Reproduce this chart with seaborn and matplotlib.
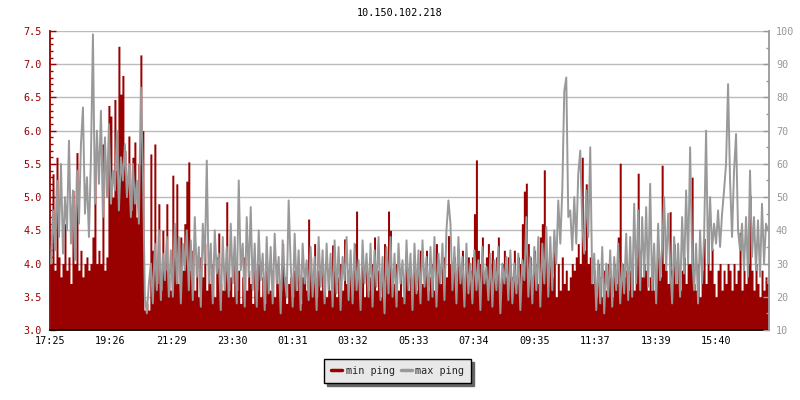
import matplotlib
matplotlib.use("Agg")
import matplotlib.pyplot as plt
from matplotlib.lines import Line2D
from matplotlib.ticker import MultipleLocator, FormatStrFormatter
import numpy as np
import pandas as pd
import seaborn as sns

title = "10.150.102.218"
step_min = 4  # one sample every 4 minutes, starting at 17:25

tick_minutes = [0, 121, 244, 365, 486, 607, 728, 849, 970, 1092, 1214, 1335]
tick_labels = ["17:25", "19:26", "21:29", "23:30", "01:31", "03:32",
               "05:33", "07:34", "09:35", "11:37", "13:39", "15:40"]

# min ping, read against the left axis
min_ping = [
    4.00, 5.35, 3.90, 5.60, 4.10, 3.80, 4.00, 4.60, 3.90, 4.10,
    3.70, 5.10, 4.00, 5.67, 3.90, 4.20, 3.80, 4.00, 4.10, 3.90,
    4.00, 4.40, 5.65, 4.00, 4.20, 4.00, 5.80, 3.90, 4.10, 6.38,
    6.22, 5.00, 6.47, 5.40, 7.27, 6.55, 6.83, 5.70, 5.30, 5.92,
    4.80, 5.60, 5.83, 4.70, 5.50, 7.14, 6.00, 3.30, 3.40, 3.30,
    5.65, 4.20, 5.80, 3.70, 4.90, 3.60, 4.50, 3.90, 4.90, 3.80,
    3.60, 5.33, 4.10, 5.20, 3.70, 4.40, 3.90, 4.60, 5.24, 5.53,
    3.90, 4.20, 3.60, 4.00, 3.50, 4.10, 3.80, 4.30, 3.60, 3.90,
    3.70, 4.00, 3.50, 4.10, 4.46, 3.70, 3.60, 3.90, 4.93, 3.60,
    3.80, 3.50, 4.00, 3.60, 3.90, 3.40, 3.80, 4.10, 3.60, 3.90,
    3.70, 3.40, 3.90, 3.60, 4.00, 3.50, 3.80, 3.40, 3.90, 3.60,
    3.60, 3.90, 3.50, 4.00, 3.70, 3.60, 4.30, 3.80, 3.40, 3.70,
    3.80, 3.50, 3.90, 3.60, 4.00, 3.40, 3.80, 3.90, 3.60, 4.67,
    4.10, 3.70, 4.30, 3.50, 3.90, 3.60, 4.00, 3.80, 3.50, 3.90,
    3.60, 4.28, 3.90, 3.50, 3.80, 4.00, 3.60, 4.37, 3.70, 3.90,
    3.90, 3.60, 4.30, 4.79, 3.80, 3.70, 4.00, 3.50, 3.90, 3.60,
    3.80, 4.00, 4.40, 3.60, 3.90, 3.50, 3.80, 4.30, 3.90, 4.79,
    4.50, 3.80, 3.70, 4.00, 3.60, 3.90, 3.50, 3.80, 4.00, 3.60,
    3.90, 3.70, 4.10, 3.60, 4.00, 4.20, 3.70, 3.90, 4.20, 3.60,
    3.80, 4.00, 3.60, 4.30, 3.90, 3.70, 4.00, 4.10, 3.80, 4.42,
    4.00, 3.80, 4.10, 3.70, 4.00, 3.90, 4.20, 3.70, 4.00, 4.10,
    3.90, 4.10, 4.75, 5.56, 4.20, 4.00, 4.40, 3.80, 4.10, 4.30,
    4.00, 4.20, 3.80, 4.10, 4.40, 3.70, 4.00, 4.20, 3.80, 4.10,
    4.00, 3.80, 4.20, 3.70, 4.10, 4.00, 4.60, 5.09, 5.21, 4.30,
    4.10, 3.80, 4.20, 4.00, 3.70, 4.40, 4.60, 5.41, 4.20, 4.00,
    4.10, 3.80, 4.20, 3.50, 4.00, 3.60, 4.10, 3.70, 3.90, 3.60,
    3.80, 4.00, 3.90, 4.10, 4.30, 4.00, 5.60, 4.20, 5.20, 4.00,
    4.10, 3.70, 3.90, 3.50, 4.00, 3.80, 3.50, 3.90, 3.60, 4.00,
    3.80, 3.50, 4.00, 3.70, 4.40, 5.51, 4.00, 3.80, 3.90, 3.60,
    3.90, 4.00, 3.60, 4.10, 5.36, 4.20, 3.80, 4.00, 3.90, 3.60,
    3.80, 4.00, 3.60, 3.90, 4.10, 3.80, 5.48, 4.00, 3.90, 3.70,
    4.78, 3.90, 4.30, 3.70, 4.00, 3.60, 3.90, 4.10, 3.70, 4.00,
    4.00, 5.30, 3.70, 3.60, 4.00, 3.50, 3.90, 4.38, 3.70, 4.65,
    3.90, 4.23, 3.70, 3.50, 3.90, 4.00, 3.60, 3.90, 3.70, 4.00,
    3.90, 3.60, 4.00, 3.70, 3.90, 4.47, 3.60, 3.90, 3.70, 4.00,
    5.03, 3.90, 3.60, 4.00, 3.70, 3.50, 3.90, 3.60, 3.80, 3.70,
]

# max ping, read against the right axis
max_ping = [
    30, 46, 34, 55, 38, 60, 33, 50, 40, 67,
    36, 52, 31, 58, 42, 66, 77, 45, 56, 38,
    62, 99, 48, 70, 54, 76, 44, 68, 50, 72,
    48, 58, 52, 70, 46, 62, 55, 66, 50, 60,
    44, 60, 48, 55, 42, 83, 58, 20, 15, 24,
    30, 18, 36, 22, 40, 19, 33, 25, 38, 20,
    34, 20, 42, 24, 38, 18, 36, 28, 40, 22,
    37, 19, 44, 26, 35, 17, 42, 30, 61, 24,
    36, 18, 40, 27, 33, 16, 38, 22, 35, 20,
    42, 24, 38, 18, 55, 28, 36, 17, 44, 26,
    47, 22, 36, 17, 40, 25, 33, 16, 38, 21,
    35, 18, 39, 24, 32, 15, 37, 26, 20, 49,
    30, 17, 39, 22, 34, 16, 36, 24, 31, 19,
    35, 20, 32, 16, 38, 23, 34, 18, 36, 22,
    33, 17, 37, 21, 35, 16, 32, 25, 38, 19,
    34, 18, 36, 22, 31, 16, 37, 24, 33, 20,
    36, 17, 34, 23, 38, 19, 32, 15, 35, 21,
    38, 20, 33, 17, 36, 24, 31, 18, 37, 22,
    33, 16, 36, 21, 34, 18, 37, 23, 32, 19,
    35, 20, 38, 17, 33, 24, 36, 19, 40, 49,
    42, 22, 35, 18, 38, 24, 32, 17, 36, 21,
    30, 18, 34, 22, 31, 16, 35, 24, 29, 19,
    33, 17, 31, 22, 35, 15, 30, 24, 32, 19,
    34, 18, 30, 21, 33, 16, 31, 25, 44, 20,
    32, 18, 35, 22, 38, 17, 36, 24, 41, 20,
    38, 22, 40, 30, 49, 36, 52, 82, 86, 44,
    46, 34, 50, 36, 57, 64, 42, 33, 52, 38,
    65, 24, 33, 16, 31, 18, 35, 15, 30, 20,
    34, 17, 32, 22, 36, 18, 30, 21, 39, 19,
    38, 20, 48, 24, 46, 22, 44, 26, 47, 23,
    54, 22, 36, 18, 42, 25, 35, 50, 28, 45,
    30, 18, 38, 24, 36, 20, 44, 27, 52, 30,
    65, 32, 22, 36, 18, 40, 24, 38, 70, 30,
    50, 34, 42, 36, 46, 35, 45, 52, 60, 84,
    55, 38, 58, 69, 40, 34, 42, 28, 44, 26,
    58, 32, 44, 28, 43, 26, 48, 30, 42, 40,
]

RED = "#990000"
GREY = "#999999"

sns.set_style("white")
plt.rcParams["font.family"] = ["DejaVu Sans Mono"]
plt.rcParams["font.size"] = 7.3

n = len(min_ping)
t = np.arange(n) * step_min

# red area: step edges, the last sample repeated so the final step reaches the end
red_df = pd.DataFrame({"t": np.append(t, n * step_min),
                       "min_ping": min_ping + min_ping[-1:]})
# grey line: one point in the middle of each sample
grey_df = pd.DataFrame({"t": t + step_min / 2, "max_ping": max_ping})

fig = plt.figure(figsize=(8, 4), dpi=100)
ax = fig.add_axes([0.0625, 0.175, 0.89875, 0.7475])
ax2 = ax.twinx()

ax.fill_between(red_df["t"], 3.0, red_df["min_ping"], step="post", color=RED,
                linewidth=0, antialiased=False)
sns.lineplot(data=grey_df, x="t", y="max_ping", color=GREY, linewidth=1.4, ax=ax2)

ax.set_xlim(0, n * step_min)
ax.set_ylim(3.0, 7.5)
ax2.set_ylim(10, 100)
ax.set_xlabel("")
ax.set_ylabel("")
ax2.set_xlabel("")
ax2.set_ylabel("")

ax.set_xticks(tick_minutes, tick_labels)
ax.yaxis.set_major_locator(MultipleLocator(0.5))
ax.yaxis.set_minor_locator(MultipleLocator(0.1))
ax.yaxis.set_major_formatter(FormatStrFormatter("%.1f"))
ax2.yaxis.set_major_locator(MultipleLocator(10))
ax2.yaxis.set_minor_locator(MultipleLocator(5))

ax.grid(axis="y", color="#bbbbbb", linewidth=1)
ax.set_axisbelow(True)

ax.tick_params(axis="x", direction="in", length=5, width=1, color="black",
               labelcolor="black", pad=4)
ax.tick_params(axis="y", which="major", direction="in", length=4, width=1,
               color=RED, labelcolor=RED, pad=6)
ax.tick_params(axis="y", which="minor", direction="in", length=2.5, width=1, color=RED)
ax2.tick_params(axis="y", which="major", direction="in", length=4, width=1,
                color=GREY, labelcolor=GREY, pad=5)
ax2.tick_params(axis="y", which="minor", direction="in", length=2.5, width=1, color=GREY)

for a in (ax, ax2):
    a.spines["top"].set_visible(False)
ax.spines["right"].set_visible(False)
ax2.spines["left"].set_visible(False)
ax2.spines["bottom"].set_visible(False)
ax.spines["left"].set_color(RED)
ax.spines["left"].set_linewidth(1.3)
ax2.spines["right"].set_color(GREY)
ax2.spines["right"].set_linewidth(1.3)
ax.spines["bottom"].set_color("black")
ax.spines["bottom"].set_linewidth(1.2)

fig.text(0.5, 0.9675, title, ha="center", va="center", color="black")

handles = [Line2D([], [], color=RED, linewidth=2.5),
           Line2D([], [], color=GREY, linewidth=2.5)]
fig.legend(handles, ["min ping", "max ping"], loc="center",
           bbox_to_anchor=(0.497, 0.0725), ncol=2, frameon=True,
           fancybox=False, shadow={"color": "#666666", "alpha": 1},
           facecolor="#e8e8e8", edgecolor="black", framealpha=1,
           handlelength=1.1, handletextpad=0.35, columnspacing=0.6,
           borderpad=0.7)

fig.savefig("out.png", dpi=100)
